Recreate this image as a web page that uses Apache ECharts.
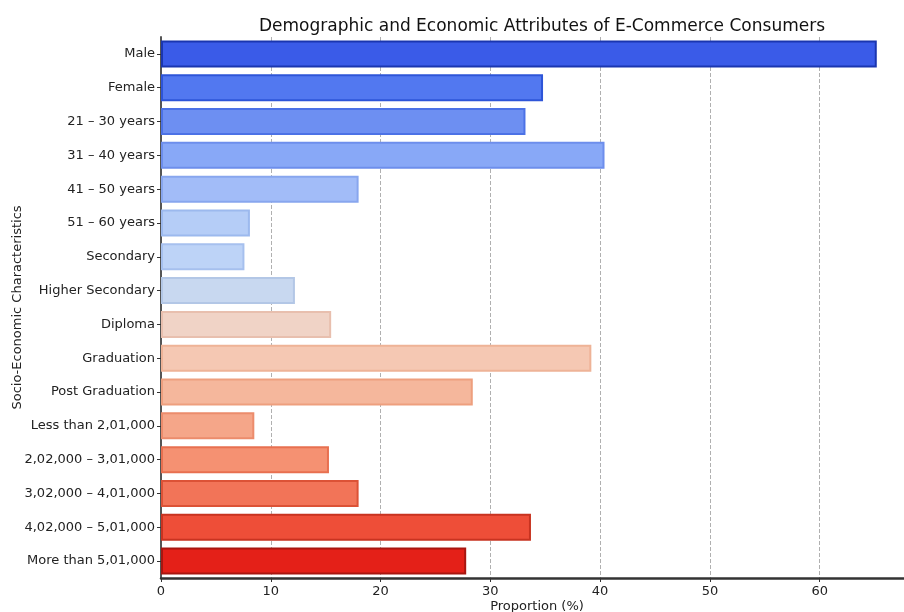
<!DOCTYPE html>
<html>
<head>
<meta charset="utf-8">
<script src="https://cdn.jsdelivr.net/npm/echarts@6/dist/echarts.min.js"></script>
<style>
  html, body { margin: 0; padding: 0; background: #fff; }
  #chart { width: 904px; height: 612px; }
</style>
</head>
<body>
<div id="chart"></div>
<script>
var categories = [
  'Male', 'Female', '21 – 30 years', '31 – 40 years', '41 – 50 years', '51 – 60 years',
  'Secondary', 'Higher Secondary', 'Diploma', 'Graduation', 'Post Graduation',
  'Less than 2,01,000', '2,02,000 – 3,01,000', '3,02,000 – 4,01,000',
  '4,02,000 – 5,01,000', 'More than 5,01,000'
]
var proportions = [65.2, 34.8, 33.2, 40.4, 18.0, 8.1, 7.6, 12.2, 15.5, 39.2, 28.4, 8.5, 15.3, 18.0, 33.7, 27.8]
var xTicks = [0, 10, 20, 30, 40, 50, 60]

var fills = ['#3a5be8', '#5278f0', '#6d8ff2', '#88a8f7', '#a2bcf8', '#b5cdf7', '#bdd3f7', '#c8d8f0',
  '#f0d3c6', '#f5c8b3', '#f5b79c', '#f5a689', '#f59172', '#f27458', '#ee4e38', '#e42018']
var edges = ['#1a36b0', '#2e55d8', '#4c72e6', '#6d8eec', '#88a6ee', '#9cb9ee', '#a6c0ee', '#b3c7e6',
  '#e8bfae', '#eeb397', '#ee9f7e', '#ec8c6c', '#e87050', '#dc5236', '#c83320', '#a81610']

var font = 'DejaVu Sans'

var chart = echarts.init(document.getElementById('chart'))

chart.setOption({
  animation: false,
  title: {
    text: 'Demographic and Economic Attributes of E-Commerce Consumers',
    left: 537,
    textAlign: 'center',
    top: 13,
    textStyle: { fontFamily: font, fontSize: 17, fontWeight: 'normal', color: '#111' }
  },
  grid: { left: 161, right: -9, top: 37, bottom: 34, containLabel: false, outerBoundsMode: 'none' },
  xAxis: {
    type: 'value',
    min: 0,
    max: 68.5,
    interval: 10,
    name: 'Proportion (%)',
    nameLocation: 'middle',
    nameGap: 22,
    nameMoveOverlap: false,
    nameTextStyle: { fontFamily: font, fontSize: 13, color: '#222' },
    axisLine: { show: true, lineStyle: { color: '#333', width: 2.5 } },
    axisTick: { show: true, length: 4, lineStyle: { color: '#333' } },
    axisLabel: {
      fontFamily: font, fontSize: 13, color: '#222', margin: 7,
      formatter: function (v) { return xTicks.indexOf(v) >= 0 ? String(v) : '' }
    },
    splitLine: { show: true, lineStyle: { color: '#b0b0b0', type: 'dashed', width: 1 } }
  },
  yAxis: {
    type: 'category',
    data: categories,
    inverse: true,
    name: 'Socio-Economic Characteristics',
    nameLocation: 'middle',
    nameGap: 137,
    nameMoveOverlap: false,
    nameTextStyle: { fontFamily: font, fontSize: 13, color: '#222' },
    axisLine: { show: true, lineStyle: { color: '#555', width: 2 } },
    axisTick: { show: true, alignWithLabel: true, length: 4, lineStyle: { color: '#333' } },
    axisLabel: { fontFamily: font, fontSize: 13, color: '#222', margin: 6 },
    splitLine: { show: false }
  },
  series: [{
    type: 'bar',
    barWidth: '80%',
    data: proportions.map(function (v, i) {
      return {
        value: v,
        itemStyle: { color: fills[i], borderColor: edges[i], borderWidth: 2 }
      }
    })
  }]
})
</script>
</body>
</html>
